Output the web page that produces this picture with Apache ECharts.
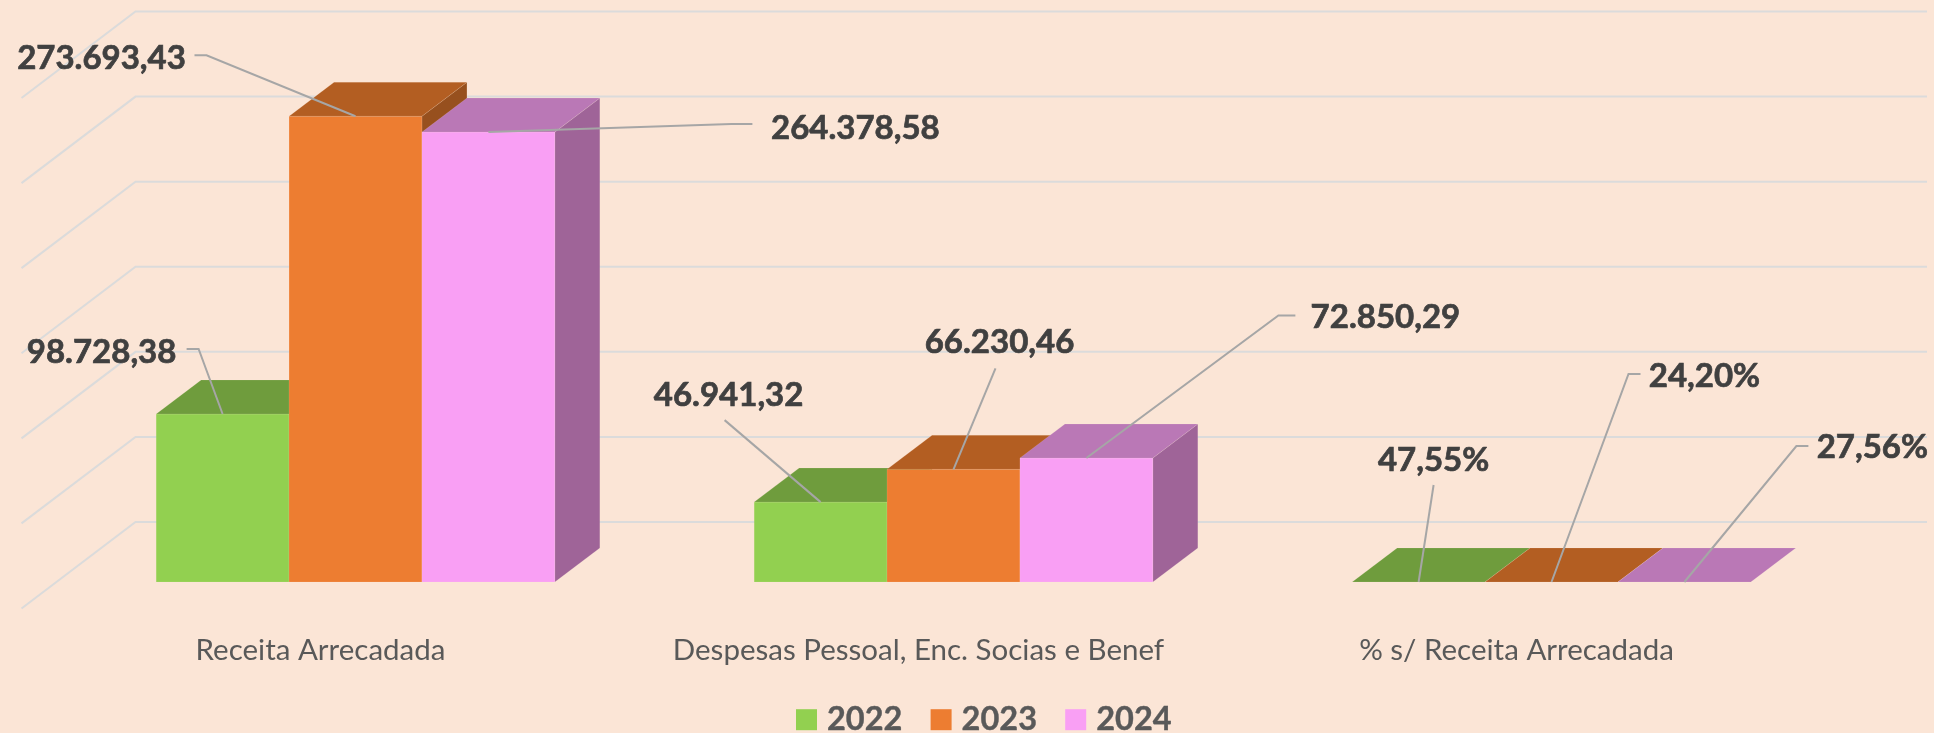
<!DOCTYPE html>
<html><head><meta charset="utf-8">
<style>html,body{margin:0;padding:0;background:#FBE5D6}#c{width:1934px;height:733px}</style>
<script src="https://cdn.jsdelivr.net/npm/echarts@6/dist/echarts.min.js"></script>
</head><body><div id="c"></div>
<script>
// ---- data ----
var categories = ['Receita Arrecadada', 'Despesas Pessoal, Enc. Socias e Benef', '% s/ Receita Arrecadada'];
var years = ['2022', '2023', '2024'];
var values2022 = [98728.38, 46941.32, 0.4755];
var values2023 = [273693.43, 66230.46, 0.2420];
var values2024 = [264378.58, 72850.29, 0.2756];
var labels2022 = ['98.728,38', '46.941,32', '47,55%'];
var labels2023 = ['273.693,43', '66.230,46', '24,20%'];
var labels2024 = ['264.378,58', '72.850,29', '27,56%'];
var wallTicks = [0, 50000, 100000, 150000, 200000, 250000, 300000];

// ---- styling / layout ----
var font = 'Lato, Carlito, Calibri, sans-serif';
var faces = [
  {front: '#92D050', top: '#6F9C3D', side: '#5D8333'},
  {front: '#ED7D31', top: '#B35E22', side: '#97501E'},
  {front: '#F99FF4', top: '#BA78B6', side: '#9F6498'}
];
var edge = 'rgba(255,238,225,0.12)';
var depth = {dx: 45, dy: 34};              // bar depth on screen
var wall = {frontDx: -35, frontDy: 26.5, backDx: 79, backDy: -60, rightDx: 76.5};
// leader polyline points and label centre, relative to the bar's top-front midpoint
var callouts = [
  [ {pts: [[-24, -65], [-36, -65]], text: [-121, -62]},
    {pts: [[-96, -82]], text: [-92, -107]},
    {pts: [[15, -97]], text: [15, -122]} ],
  [ {pts: [[-149, -61], [-161, -61]], text: [-254, -58]},
    {pts: [[42, -101]], text: [46, -127]},
    {pts: [[77, -208], [89, -208]], text: [153, -206]} ],
  [ {pts: [[243, -8], [264, -8]], text: [367, -4]},
    {pts: [[192, -142.5], [209, -142.5]], text: [299, -141]},
    {pts: [[112, -136], [124, -136]], text: [188, -135]} ]
];

var allValues = [values2022, values2023, values2024];
var allLabels = [labels2022, labels2023, labels2024];

function barRows(s) {
  return categories.map(function (c, i) { return [i, allValues[s][i], s]; });
}
function labelRows() {
  var rows = [];
  years.forEach(function (y, s) {
    categories.forEach(function (c, i) { rows.push([i, allValues[s][i], s]); });
  });
  return rows;
}
function barGeom(api) {
  var w = api.size([1, 0])[0] / 4.5;
  var p = api.coord([api.value(0), api.value(1)]);
  var b = api.coord([api.value(0), 0]);
  var s = api.value(2);
  var x = p[0] - 1.5 * w + s * w;
  return {x: x, w: w, top: p[1], base: b[1], s: s, cat: api.value(0)};
}
function renderBar(params, api) {
  var g = barGeom(api), f = faces[g.s], d = depth;
  return {type: 'group', children: [
    {type: 'polygon', shape: {points: [[g.x + g.w, g.top], [g.x + g.w + d.dx, g.top - d.dy], [g.x + g.w + d.dx, g.base - d.dy], [g.x + g.w, g.base]]},
     style: {fill: f.side, stroke: edge, lineWidth: 1}},
    {type: 'rect', shape: {x: g.x, y: g.top, width: g.w, height: g.base - g.top},
     style: {fill: f.front, stroke: edge, lineWidth: 1}},
    {type: 'polygon', shape: {points: [[g.x, g.top], [g.x + d.dx, g.top - d.dy], [g.x + g.w + d.dx, g.top - d.dy], [g.x + g.w, g.top]]},
     style: {fill: f.top, stroke: edge, lineWidth: 1}}
  ]};
}
function renderLabel(params, api) {
  var g = barGeom(api), c = callouts[g.s][g.cat];
  var ax = g.x + g.w / 2, ay = g.top;
  var pts = [[ax, ay]].concat(c.pts.map(function (q) { return [ax + q[0], ay + q[1]]; }));
  return {type: 'group', children: [
    {type: 'polyline', shape: {points: pts}, style: {fill: null, stroke: '#A6A6A6', lineWidth: 2}},
    {type: 'text', style: {x: ax + c.text[0], y: ay + c.text[1], text: allLabels[g.s][g.cat],
      font: 'bold 33px ' + font, fill: '#404040', stroke: '#404040', lineWidth: 0.7, align: 'center', verticalAlign: 'middle'}}
  ]};
}
function renderWall(params, api) {
  var v = api.value(0);
  var p = api.coord([0, v]);
  var left = params.coordSys.x, right = left + params.coordSys.width;
  var base = p[1];
  return {type: 'polyline', shape: {points: [
      [left + wall.frontDx, base + wall.frontDy],
      [left + wall.backDx, base + wall.backDy],
      [right + wall.rightDx, base + wall.backDy]]},
    style: {fill: null, stroke: '#DBDBDB', lineWidth: 2}};
}

var series = [{
  name: 'wall', type: 'custom', coordinateSystem: 'cartesian2d', z: 1, silent: true, clip: false,
  data: wallTicks.map(function (t) { return [t]; }), encode: {y: 0}, renderItem: renderWall
}];
years.forEach(function (y, s) {
  series.push({
    name: y, type: 'custom', coordinateSystem: 'cartesian2d', z: 2 + s, clip: false,
    itemStyle: {color: faces[s].front},
    data: barRows(s), encode: {x: 0, y: 1}, renderItem: renderBar
  });
});
series.push({
  name: 'labels', type: 'custom', coordinateSystem: 'cartesian2d', z: 10, silent: true, clip: false,
  data: labelRows(), encode: {x: 0, y: 1}, renderItem: renderLabel
});

var chart = echarts.init(document.getElementById('c'), null, {renderer: 'canvas'});
chart.setOption({
  animation: false,
  backgroundColor: '#FBE5D6',
  grid: {left: 56.5, width: 1794, top: 71.5, height: 510.5, containLabel: false},
  xAxis: {
    type: 'category', data: categories,
    axisLine: {show: false}, axisTick: {show: false}, splitLine: {show: false},
    axisLabel: {color: '#595959', fontFamily: font, fontSize: 29.5, margin: 53, padding: [0, 70, 0, 0], interval: 0}
  },
  yAxis: {type: 'value', min: 0, max: 300000, interval: 50000, show: false},
  legend: {
    data: years, left: 796, top: 703, padding: 0, icon: 'rect', itemWidth: 21, itemHeight: 21, itemGap: 28, selectedMode: false,
    textStyle: {color: '#595959', fontFamily: font, fontWeight: 'bold', fontSize: 32.5, padding: [0, 0, 0, 5], textBorderColor: '#595959', textBorderWidth: 0.4}
  },
  tooltip: {show: false},
  series: series
});
</script></body></html>
